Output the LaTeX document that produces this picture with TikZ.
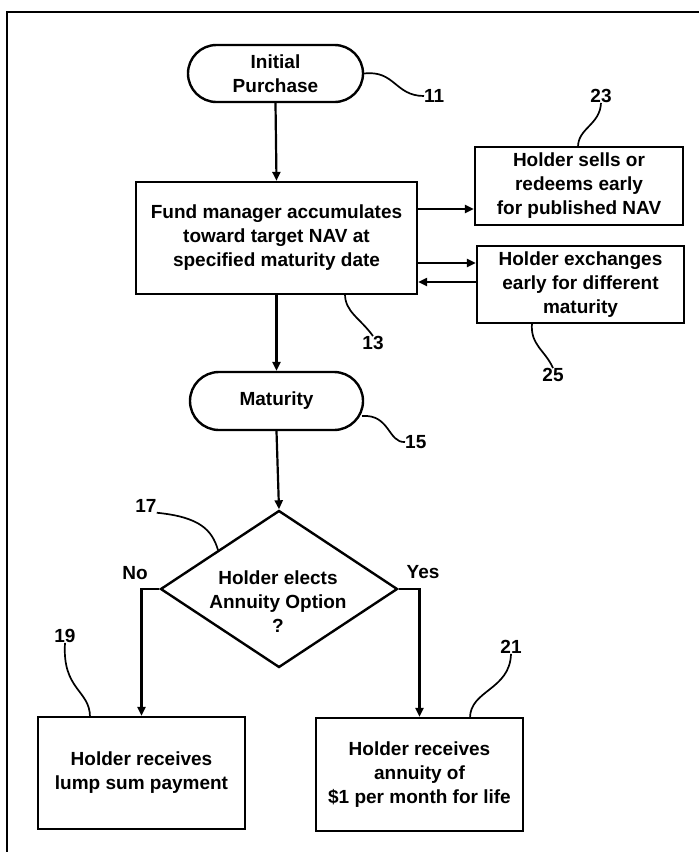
\documentclass[tikz,border=0pt]{standalone}
\usepackage{fontspec}
\setmainfont{Liberation Sans}
\usetikzlibrary{arrows.meta,shapes.geometric,shapes.misc,calc}
\begin{document}
\begin{tikzpicture}[x=1pt,y=-1pt,
  every node/.style={font=\fontsize{19}{24}\selectfont\bfseries, align=center, inner sep=0pt},
  box/.style={draw, line width=2.4pt, rectangle},
  term/.style={draw, line width=2.4pt, rounded rectangle},
  decis/.style={draw, line width=2.4pt, diamond},
  arr/.style={line width=2.2pt, -{Triangle[length=9pt,width=8pt]}},
  lead/.style={line width=1.7pt},
  refnum/.style={font=\fontsize{19}{24}\selectfont\bfseries}
]
\useasboundingbox (0,0) rectangle (699,852);
% partial frame
\draw[line width=2.8pt] (7,852) -- (7,12) -- (699,12);

% nodes
\node[term, minimum width=175pt, minimum height=57pt] (ip) at (275.5,73.5) {Initial\\Purchase};
\node[box, minimum width=281pt, minimum height=112pt] (b13) at (276.5,238) {Fund manager accumulates\\toward target NAV at\\specified maturity date};
\node[box, minimum width=208pt, minimum height=78pt] (b23) at (579,186) {Holder sells or\\redeems early\\for published NAV};
\node[box, minimum width=207pt, minimum height=77pt] (b25) at (580.5,284.5) {Holder exchanges\\early for different\\maturity};
\node[term, minimum width=173pt, minimum height=58pt] (mat) at (276.5,401) {Maturity};
\node[decis, minimum width=237pt, minimum height=157pt] (d) at (279,589) {};
\node (dt) at (278,602) {Holder elects\\Annuity Option\\?};
\node[box, minimum width=207pt, minimum height=112pt] (b19) at (141.5,773) {Holder receives\\lump sum payment};
\node[box, minimum width=207pt, minimum height=113pt] (b21) at (419.5,774.5) {Holder receives\\annuity of\\\$1 per month for life};

% text labels
\node (no) at (135,573) {No};
\node (yes) at (423,572) {Yes};

% reference numerals
\node[refnum, anchor=west] (n11) at (424,96) {11};
\node[refnum] (n23) at (601,96) {23};
\node[refnum] (n13) at (373,343) {13};
\node[refnum] (n25) at (553,375) {25};
\node[refnum, anchor=west] (n15) at (405,442) {15};
\node[refnum] (n17) at (146,506) {17};
\node[refnum] (n19) at (65,636) {19};
\node[refnum] (n21) at (511,647) {21};

% helper coordinates
\coordinate (y209) at (0,209);
\coordinate (y263) at (0,263);
\coordinate (y282) at (0,282);

% connectors
\draw[arr] (ip.south) -- (b13.north);
\draw[arr] (b13.east |- y209) -- (b23.west |- y209);
\draw[arr] (b13.east |- y263) -- (b25.west |- y263);
\draw[arr] (b25.west |- y282) -- (b13.east |- y282);
\draw[arr] (b13.south) -- (mat.north);
\draw[arr] (mat.south) -- (d.north);
\draw[arr] (d.west) -| (b19.north);
\draw[arr] (d.east) -| (b21.north);

% leader lines
\draw[lead] (ip.east) .. controls (395,70) and (395,96) .. (n11.west);
\draw[lead] (n23.south) .. controls (600,125) and (578,128) .. (578,147);
\draw[lead] (345,294) .. controls (345,312) and (360,318) .. (n13.north);
\draw[lead] (532,323) .. controls (530,345) and (545,350) .. (n25.north);
\draw[lead] (362,416) .. controls (390,414) and (388,443) .. (n15.west);
\draw[lead] (n17.south east) .. controls (200,517) and (212,530) .. (218,550);
\draw[lead] (n19.south) .. controls (62,690) and (90,690) .. (90,717);
\draw[lead] (n21.south) .. controls (510,690) and (470,690) .. (470,718);
\end{tikzpicture}
\end{document}
